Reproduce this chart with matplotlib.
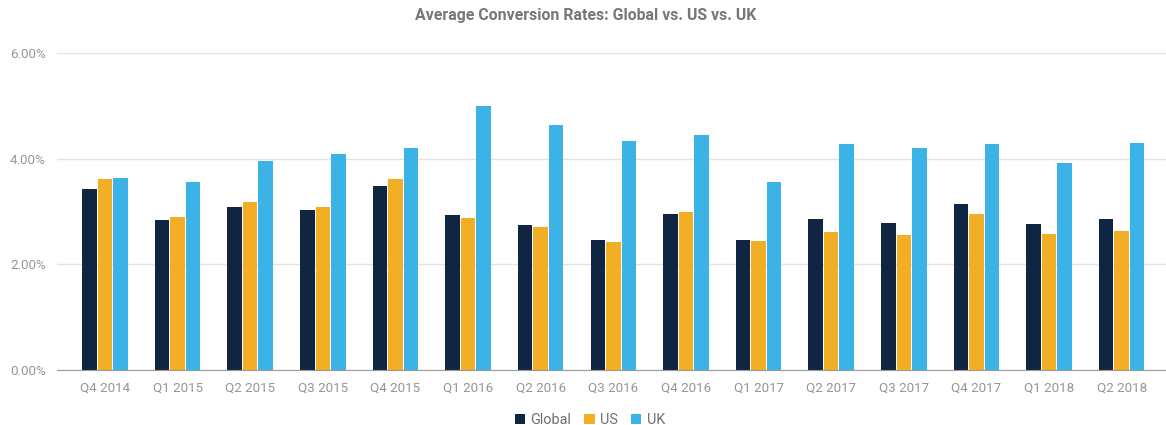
import matplotlib
matplotlib.use("Agg")
import numpy as np
import matplotlib.pyplot as plt
from matplotlib.ticker import FuncFormatter

quarters = ["Q4 2014", "Q1 2015", "Q2 2015", "Q3 2015", "Q4 2015",
            "Q1 2016", "Q2 2016", "Q3 2016", "Q4 2016", "Q1 2017",
            "Q2 2017", "Q3 2017", "Q4 2017", "Q1 2018", "Q2 2018"]

# average conversion rate, percent
global_rate = [3.42, 2.83, 3.08, 3.02, 3.49, 2.93, 2.75, 2.46, 2.95, 2.46,
               2.85, 2.79, 3.15, 2.77, 2.85]
us_rate = [3.61, 2.90, 3.18, 3.08, 3.61, 2.88, 2.71, 2.42, 2.99, 2.44,
           2.61, 2.56, 2.95, 2.58, 2.63]
uk_rate = [3.64, 3.56, 3.95, 4.08, 4.20, 5.00, 4.64, 4.34, 4.44, 3.55,
           4.27, 4.20, 4.27, 3.91, 4.30]

series = [("Global", global_rate, "#0f2541"),
          ("US", us_rate, "#f2ae24"),
          ("UK", uk_rate, "#3bb3e6")]

plt.rcParams["font.family"] = ["Roboto", "DejaVu Sans"]

fig = plt.figure(figsize=(11.66, 4.25), dpi=100)
ax = fig.add_axes([0.0489, 0.1294, 0.9511, 0.7459])

x = np.arange(len(quarters))
width = 0.2
step = 0.213
for i, (name, vals, color) in enumerate(series):
    ax.bar(x + (i - 1) * step, vals, width=width, color=color, label=name, zorder=3)

ax.set_xlim(-0.66, 14.61)
ax.set_ylim(0, 6)
ax.set_yticks([0, 2, 4, 6])
ax.yaxis.set_major_formatter(FuncFormatter(lambda v, _: f"{v:.2f}%"))
ax.set_xticks(x)
ax.set_xticklabels(quarters)

ax.grid(axis="y", color="#e3e3e3", linewidth=1, zorder=0)
for side in ["top", "right", "left"]:
    ax.spines[side].set_visible(False)
ax.spines["bottom"].set_color("#9a9a9a")
ax.spines["bottom"].set_zorder(4)
ax.tick_params(axis="both", length=0, colors="#969696", labelsize=9.6)
ax.tick_params(axis="x", pad=8)
ax.tick_params(axis="y", pad=8)

fig.text(0.502, 0.963, "Average Conversion Rates: Global vs. US vs. UK",
         ha="center", va="center", fontsize=11.4, fontweight="bold", color="#777777")

fig.legend(loc="center", bbox_to_anchor=(0.506, 0.012), ncol=3, frameon=False,
           fontsize=10.4, labelcolor="#6f6f6f", handlelength=0.7, handleheight=0.7,
           handletextpad=0.4, columnspacing=0.9)

fig.savefig("out.png", dpi=100)
